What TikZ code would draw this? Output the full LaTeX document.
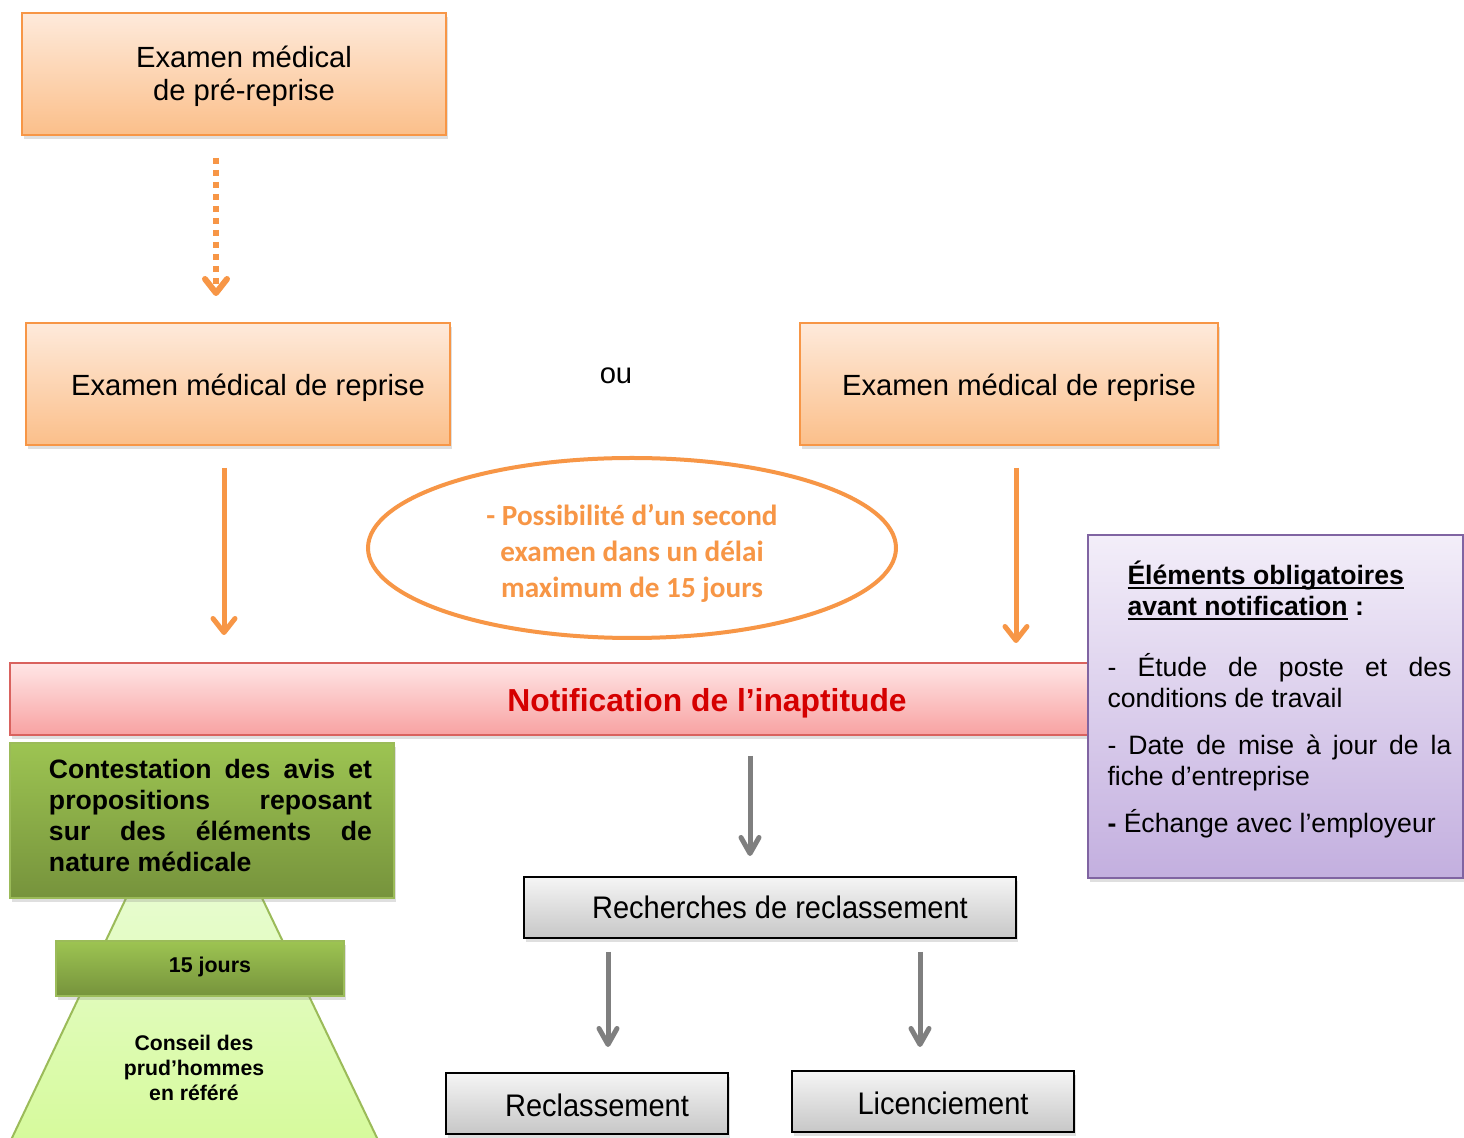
\documentclass[tikz,border=0pt]{standalone}
\usepackage{fontspec}
\setmainfont{Liberation Sans}
\newfontfamily\calibri{Carlito}
\newfontfamily\narrow[FakeStretch=0.93]{Liberation Sans}
\usetikzlibrary{positioning, arrows.meta, shapes.geometric, shadows}
\hyphenpenalty=10000
\exhyphenpenalty=10000

\definecolor{orline}{HTML}{F79646}
\definecolor{ortop}{HTML}{FEEADB}
\definecolor{orbot}{HTML}{FBBF8A}
\definecolor{redline}{HTML}{D9625E}
\definecolor{redtop}{HTML}{FFE6E6}
\definecolor{redbot}{HTML}{F8A2A2}
\definecolor{redtext}{HTML}{D50000}
\definecolor{grline}{HTML}{9BBB59}
\definecolor{grtop}{HTML}{9DC452}
\definecolor{grbot}{HTML}{76933C}
\definecolor{lgtop}{HTML}{EAFDD8}
\definecolor{lgbot}{HTML}{D6FA9C}
\definecolor{puline}{HTML}{8064A2}
\definecolor{putop}{HTML}{F3EEF9}
\definecolor{pubot}{HTML}{C3AFDF}
\definecolor{arrgray}{HTML}{7F7F7F}

\def\pad{\hspace*{10pt}}
\long\def\lift#1#2{\raisebox{#1}[\height][\depth]{#2}}
\def\undl#1{\setbox0\hbox{#1}\rlap{\rule[-2.2pt]{\wd0}{0.9pt}}\box0}

\tikzset{
  softshadow/.style={drop shadow={opacity=0.25, shadow xshift=1pt, shadow yshift=-2pt}},
  orangebox/.style={draw=orline, line width=1pt, top color=ortop, bottom color=orbot, minimum height=61pt, softshadow, font=\fontsize{14.6}{16.5}\selectfont},
  greenbox/.style={draw=grline, line width=1pt, top color=grtop, bottom color=grbot, softshadow},
  graybox/.style={draw=black, line width=1pt, top color=white!96!black, bottom color=black!22, minimum width=141pt, minimum height=30.5pt, softshadow, font=\narrow\fontsize{15.6}{18}\selectfont, execute at begin node=\pad},
  orarrow/.style={draw=orline, line width=2.5pt, -{Straight Barb[round, length=7pt, width=11pt]}},
  grarrow/.style={draw=arrgray, line width=2.5pt, -{Straight Barb[round, length=8pt, width=9pt]}}
}

\begin{document}
\begin{tikzpicture}[x=0.5pt, y=-0.5pt]
\path[use as bounding box, fill=white] (0,0) rectangle (1464,1138);

\node[orangebox, minimum width=212pt] (pre) at (234,74) {\lift{-1.5pt}{\begin{tabular}{@{}c@{}}\pad Examen médical\\\pad de pré-reprise\end{tabular}}};
\node[orangebox, minimum width=212pt, execute at begin node=\pad] (repA) at (238,384) {\lift{-2pt}{Examen médical de reprise}};
\node[orangebox, minimum width=209pt, execute at begin node=\pad] (repB) at (1009,384) {\lift{-2pt}{Examen médical de reprise}};
\node[font=\fontsize{14.6}{16.5}\selectfont] (ou) at (616,376) {ou};

\node[ellipse, draw=orline, line width=2pt, minimum width=264pt, minimum height=90pt, inner sep=0pt, text=orline, font=\calibri\bfseries\fontsize{14.6}{18}\selectfont] (second) at (632,548) {\lift{-3pt}{\begin{tabular}{@{}c@{}}- Possibilité d’un second\\examen dans un délai\\maximum de 15 jours\end{tabular}}};

\node[draw=redline, line width=1pt, top color=redtop, bottom color=redbot, minimum width=697pt, minimum height=36pt, softshadow, text=redtext, font=\bfseries\fontsize{15.9}{18}\selectfont] (notif) at (707,699) {\lift{-2pt}{Notification de l’inaptitude}};

\node[draw=puline, line width=1pt, top color=putop, bottom color=pubot, minimum width=187.5pt, minimum height=171.5pt, softshadow, font=\fontsize{13.3}{15.5}\selectfont] (oblig) at (1275.5,706.5) {\hspace*{4pt}\lift{3.5pt}{\parbox{172pt}{\pad\textbf{\undl{Éléments obligatoires}}\\\pad\textbf{\undl{avant notification}~:}\par\vspace{15pt}- Étude de poste et des\linebreak conditions de travail\par\vspace{8pt}- Date de mise à jour de la\linebreak fiche d’entreprise\par\vspace{8pt}\textbf{-} Échange avec l’employeur}}};

\path[draw=grline, line width=1pt, top color=lgtop, bottom color=lgbot] (149,850) -- (239,850) -- (378,1140) -- (11,1140) -- cycle;
\node[greenbox, minimum width=192pt, minimum height=77.5pt, font=\bfseries\fontsize{13.3}{15.5}\selectfont] (contest) at (202,820.5) {\hspace*{8.5pt}\lift{2.5pt}{\parbox{161.5pt}{Contestation des avis et\linebreak propositions reposant\linebreak sur des éléments de\linebreak nature médicale}}};
\node[greenbox, minimum width=144pt, minimum height=27.5pt, font=\bfseries\fontsize{10.7}{12.5}\selectfont, execute at begin node=\pad] (delai) at (200,968.5) {\lift{1pt}{15 jours}};
\node[align=center, font=\bfseries\fontsize{10.6}{12.4}\selectfont] (cph) at (194,1068) {Conseil des\\prud’hommes\\en référé};

\node[graybox, minimum width=246pt] (rech) at (770,907.5) {Recherches de reclassement};
\node[graybox] (reclass) at (587,1103.5) {\lift{-1pt}{Reclassement}};
\node[graybox] (licen) at (933,1101.5) {\lift{-1pt}{Licenciement}};

\draw[orarrow, line width=3pt, dash pattern=on 3pt off 3pt, shorten <=11pt, shorten >=13pt] (pre.south -| 216,0) -- (repA.north -| 216,0);
\draw[orarrow, shorten <=11pt, shorten >=13.5pt] (repA.south -| 224,0) -- (notif.north -| 224,0);
\draw[orarrow, shorten <=11pt, shorten >=9.5pt] (repB.south -| 1016,0) -- (notif.north -| 1016,0);
\draw[grarrow, shorten <=10pt, shorten >=10pt] (notif.south -| 750,0) -- (rech.north -| 750,0);
\draw[grarrow, shorten <=6.5pt, shorten >=12.5pt] (rech.south -| 608,0) -- (reclass.north -| 608,0);
\draw[grarrow, shorten <=6.5pt, shorten >=11.5pt] (rech.south -| 920,0) -- (licen.north -| 920,0);
\end{tikzpicture}
\end{document}
